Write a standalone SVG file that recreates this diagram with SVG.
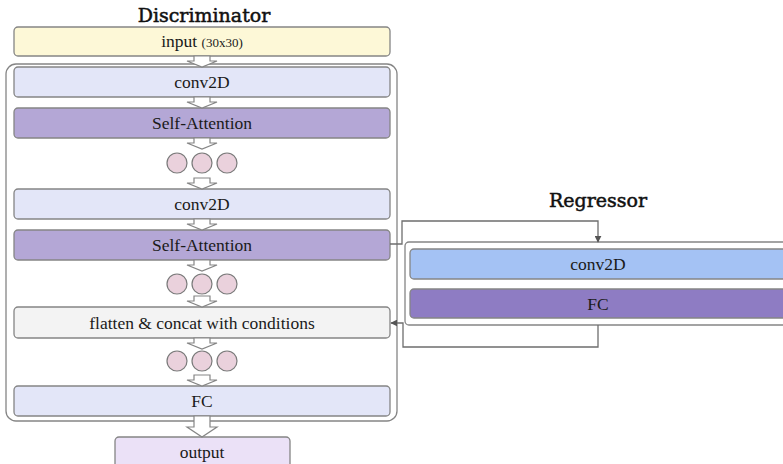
<svg xmlns="http://www.w3.org/2000/svg" width="783" height="464" viewBox="0 0 783 464">
<style>
.box{stroke:#858585;stroke-width:1.3}
.cont{fill:#fff;stroke:#858585;stroke-width:1.3}
.t{font-family:"Liberation Serif","DejaVu Serif",serif;font-size:17.5px;fill:#1a1a1a;text-anchor:middle}
.title{font-family:"DejaVu Serif",serif;font-size:19px;fill:#111;stroke:#111;stroke-width:0.5;text-anchor:middle}
.c{fill:#ead1dc;stroke:#7a7a7a;stroke-width:1.2}
.ba{fill:#fff;stroke:#858585;stroke-width:1.2}
.ln{fill:none;stroke:#6e6e6e;stroke-width:1.3}
</style>
<defs>
<marker id="ah" viewBox="0 0 10 10" refX="9" refY="5" markerWidth="7" markerHeight="7" orient="auto" markerUnits="userSpaceOnUse">
<path d="M0,0 L10,5 L0,10 z" fill="#555"/>
</marker>
<path id="arr" d="M-8,0 L8,0 L8,5 L15,5 L0,11 L-15,5 L-8,5 z"/>
</defs>
<rect width="783" height="464" fill="#fff"/>
<text class="title" x="204" y="22">Discriminator</text>
<text class="title" x="598" y="207">Regressor</text>

<g id="disc-container"><rect class="cont" x="6" y="64" width="391" height="357" rx="10"/></g>
<g id="reg-container"><rect class="cont" x="405" y="242" width="390" height="83" rx="4"/></g>

<g id="input"><rect class="box" x="14" y="27" width="376" height="29" rx="4" fill="#fdf8d7"/>
<text class="t" x="202" y="47">input <tspan font-size="13px">(30x30)</tspan></text></g>
<g id="conv1"><rect class="box" x="14" y="67" width="376" height="30" rx="4" fill="#e3e6f8"/><text class="t" x="202" y="88">conv2D</text></g>
<g id="sa1"><rect class="box" x="14" y="108" width="376" height="30" rx="4" fill="#b4a7d6"/><text class="t" x="202" y="129">Self-Attention</text></g>
<g id="dots1"><circle class="c" cx="177" cy="163" r="10"/><circle class="c" cx="202" cy="163" r="10"/><circle class="c" cx="227" cy="163" r="10"/></g>
<g id="conv2"><rect class="box" x="14" y="189" width="376" height="30" rx="4" fill="#e3e6f8"/><text class="t" x="202" y="210">conv2D</text></g>
<g id="sa2"><rect class="box" x="14" y="230" width="376" height="30" rx="4" fill="#b4a7d6"/><text class="t" x="202" y="251">Self-Attention</text></g>
<g id="dots2"><circle class="c" cx="177" cy="284" r="10"/><circle class="c" cx="202" cy="284" r="10"/><circle class="c" cx="227" cy="284" r="10"/></g>
<g id="flatten"><rect class="box" x="14" y="307" width="376" height="31" rx="4" fill="#f3f3f3"/><text class="t" x="202" y="329">flatten &amp; concat with conditions</text></g>
<g id="dots3"><circle class="c" cx="177" cy="361" r="10"/><circle class="c" cx="202" cy="361" r="10"/><circle class="c" cx="227" cy="361" r="10"/></g>
<g id="fc"><rect class="box" x="14" y="386" width="376" height="30" rx="4" fill="#e3e6f8"/><text class="t" x="202" y="407">FC</text></g>
<g id="output"><rect class="box" x="115" y="437" width="175" height="34" rx="4" fill="#ebe1f7"/><text class="t" x="202" y="458">output</text></g>

<g id="reg-conv"><rect class="box" x="410" y="249" width="385" height="30" rx="4" fill="#a4c2f4"/><text class="t" x="598" y="270">conv2D</text></g>
<g id="reg-fc"><rect class="box" x="410" y="289" width="385" height="29" rx="4" fill="#8e7cc3"/><text class="t" x="598" y="310">FC</text></g>

<g id="connectors">
<use href="#arr" class="ba" x="202" y="56"/>
<use href="#arr" class="ba" x="202" y="97"/>
<use href="#arr" class="ba" x="202" y="138"/>
<use href="#arr" class="ba" x="202" y="178"/>
<use href="#arr" class="ba" x="202" y="219"/>
<use href="#arr" class="ba" x="202" y="260"/>
<use href="#arr" class="ba" x="202" y="296"/>
<use href="#arr" class="ba" x="202" y="338"/>
<use href="#arr" class="ba" x="202" y="375"/>
<path class="ba" d="M194,416 L210,416 L210,427 L217,427 L202,437 L187,427 L194,427 z"/>
<path class="ln" d="M390,244 L402,244 L402,221 L598,221 L598,242" marker-end="url(#ah)"/>
<path class="ln" d="M598,325 L598,347 L403,347 L403,323 L391,323" marker-end="url(#ah)"/>
</g>
</svg>
